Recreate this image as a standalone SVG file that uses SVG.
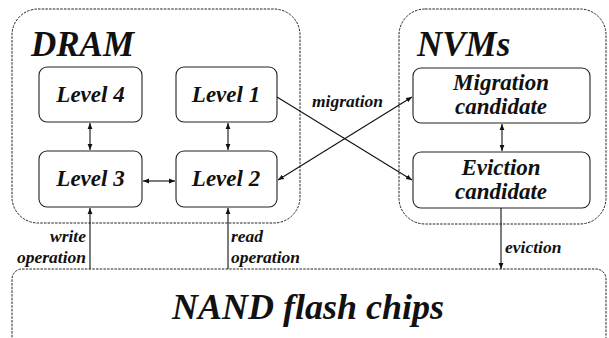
<svg xmlns="http://www.w3.org/2000/svg" width="609" height="338" viewBox="0 0 609 338">
<defs>
<style>
.cont{fill:none;stroke:#222;stroke-width:1;stroke-dasharray:2.5 1.2}
.box{fill:#fff;stroke:#222;stroke-width:1.1}
.t{font-family:"Liberation Serif","Times New Roman",serif;font-weight:bold;font-style:italic;fill:#111}
.lv{font-size:23px;text-anchor:middle}
.hd{font-size:35px}
.lb{font-size:17.5px}
.ln{fill:none;stroke:#111;stroke-width:1.1}
</style>
<marker id="ah" viewBox="0 0 10 10" refX="10" refY="5" markerWidth="6" markerHeight="6" orient="auto-start-reverse" markerUnits="userSpaceOnUse">
<path d="M0,1 L10,5 L0,9 z" fill="#111"/>
</marker>
</defs>
<rect width="609" height="338" fill="#fff"/>
<g id="dram">
<rect class="cont" x="12" y="9" width="288" height="214" rx="26"/>
<text class="t hd" x="31" y="56">DRAM</text>
</g>
<g id="nvms">
<rect class="cont" x="399" y="9" width="207" height="215" rx="26"/>
<text class="t hd" x="417" y="56" font-size="34">NVMs</text>
</g>
<g id="nand">
<rect class="cont" x="12" y="269" width="594" height="90" rx="10"/>
<text class="t" x="308" y="319" font-size="36" text-anchor="middle">NAND flash chips</text>
</g>
<g id="level4">
<rect class="box" x="39" y="67" width="103" height="55" rx="8"/>
<text class="t lv" x="90.5" y="102">Level 4</text>
</g>
<g id="level1">
<rect class="box" x="176" y="67" width="101" height="55" rx="8"/>
<text class="t lv" x="226" y="102">Level 1</text>
</g>
<g id="level3">
<rect class="box" x="39" y="151" width="103" height="56" rx="8"/>
<text class="t lv" x="90.5" y="186">Level 3</text>
</g>
<g id="level2">
<rect class="box" x="176" y="151" width="101" height="56" rx="8"/>
<text class="t lv" x="226" y="186">Level 2</text>
</g>
<g id="migration-candidate">
<rect class="box" x="413" y="68" width="177" height="55" rx="8"/>
<text class="t lv" x="501" y="90">Migration</text>
<text class="t lv" x="501" y="114">candidate</text>
</g>
<g id="eviction-candidate">
<rect class="box" x="413" y="152" width="177" height="56" rx="8"/>
<text class="t lv" x="501" y="175">Eviction</text>
<text class="t lv" x="501" y="199">candidate</text>
</g>
<g id="connectors">
<line class="ln" x1="90" y1="123" x2="90" y2="150" marker-start="url(#ah)" marker-end="url(#ah)"/>
<line class="ln" x1="228" y1="123" x2="228" y2="150" marker-start="url(#ah)" marker-end="url(#ah)"/>
<line class="ln" x1="143" y1="181" x2="175" y2="181" marker-start="url(#ah)" marker-end="url(#ah)"/>
<line class="ln" x1="502" y1="124" x2="502" y2="151" marker-start="url(#ah)" marker-end="url(#ah)"/>
<line class="ln" x1="277" y1="97" x2="412" y2="180" marker-end="url(#ah)"/>
<line class="ln" x1="278" y1="180" x2="412" y2="97" marker-start="url(#ah)" marker-end="url(#ah)"/>
<line class="ln" x1="90" y1="269" x2="90" y2="208" marker-end="url(#ah)"/>
<line class="ln" x1="228" y1="269" x2="228" y2="208" marker-end="url(#ah)"/>
<line class="ln" x1="501" y1="208" x2="501" y2="269" marker-end="url(#ah)"/>
<text class="t lb" x="312" y="107">migration</text>
<text class="t lb" x="86" y="242" text-anchor="end">write</text>
<text class="t lb" x="86" y="263" text-anchor="end">operation</text>
<text class="t lb" x="231" y="242">read</text>
<text class="t lb" x="231" y="263">operation</text>
<text class="t lb" x="505" y="253" font-size="18">eviction</text>
</g>
</svg>
